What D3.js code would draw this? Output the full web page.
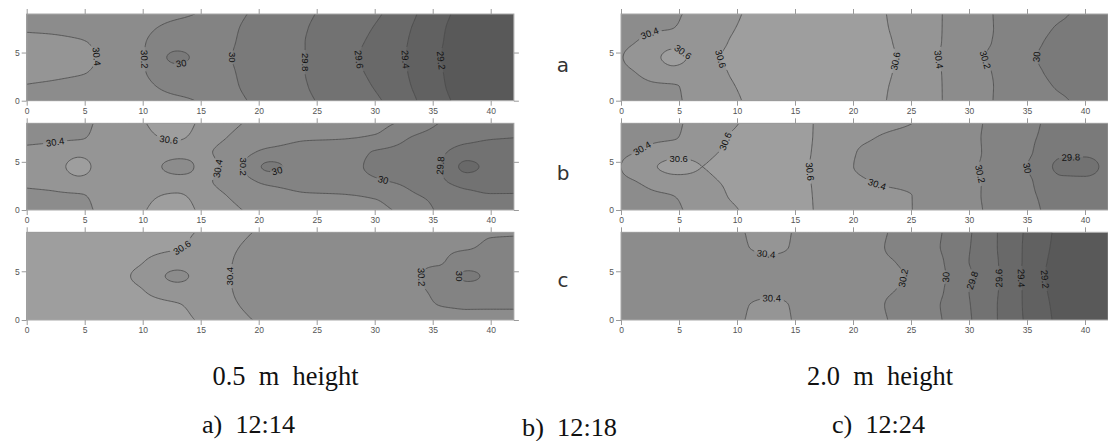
<!DOCTYPE html>
<html><head><meta charset="utf-8">
<script src="https://cdn.jsdelivr.net/npm/d3@7"></script>
<style>body{margin:0;background:#fff}svg{display:block}</style>
</head><body><svg id="chart" width="1108" height="441"></svg>
<script>
// ---------- data ----------
const xNodes = [0, 2, 4.5, 7, 9.5, 13, 15.5, 18, 21, 24, 27, 30, 33, 35.5, 38, 40, 42];
const yNodes = [9, 7.5, 6, 4.5, 3, 1.5, 0];           // grid rows, top to bottom
const levels = [29.2, 29.4, 29.6, 29.8, 30.0, 30.2, 30.4, 30.6];
const xTicks = [0, 5, 10, 15, 20, 25, 30, 35, 40];
const yTicks = [0, 5];
const rowNames = ["a", "b", "c"];
const heightTitles = ["0.5  m  height", "2.0  m  height"];
const timeTitles = ["a)  12:14", "b)  12:18", "c)  12:24"];

// 0.5 m, 12:14
const temp05a = [
 [30.33,30.33,30.31,30.29,30.27,30.23,30.17,30.03,29.95,29.83,29.73,29.63,29.45,29.25,29.15,29.10,29.07],
 [30.38,30.37,30.34,30.30,30.25,30.15,30.12,30.01,29.93,29.81,29.70,29.59,29.41,29.23,29.13,29.09,29.06],
 [30.46,30.45,30.42,30.34,30.24,30.08,30.09,30.00,29.92,29.80,29.68,29.56,29.39,29.22,29.12,29.08,29.05],
 [30.50,30.48,30.45,30.36,30.25,29.96,30.07,29.99,29.91,29.80,29.68,29.53,29.38,29.21,29.11,29.07,29.05],
 [30.46,30.45,30.42,30.34,30.24,30.08,30.09,30.00,29.92,29.80,29.68,29.56,29.39,29.22,29.12,29.08,29.05],
 [30.39,30.37,30.33,30.30,30.25,30.15,30.12,30.01,29.93,29.81,29.70,29.59,29.41,29.23,29.13,29.09,29.06],
 [30.32,30.32,30.30,30.28,30.26,30.23,30.17,30.03,29.95,29.83,29.73,29.63,29.45,29.25,29.15,29.10,29.07]];
// 0.5 m, 12:18
const temp05b = [
 [30.35,30.36,30.37,30.45,30.56,30.70,30.52,30.42,30.33,30.28,30.26,30.25,30.14,30.00,29.90,29.87,29.85],
 [30.37,30.38,30.39,30.46,30.54,30.62,30.48,30.37,30.28,30.22,30.21,30.18,30.00,29.92,29.84,29.81,29.80],
 [30.43,30.45,30.55,30.50,30.52,30.48,30.42,30.30,30.15,30.12,30.08,29.99,29.93,29.84,29.72,29.72,29.72],
 [30.46,30.50,30.66,30.50,30.52,30.34,30.44,30.27,29.96,30.10,30.06,29.97,29.90,29.81,29.55,29.66,29.68],
 [30.43,30.45,30.55,30.50,30.52,30.48,30.42,30.30,30.15,30.12,30.08,30.02,29.96,29.84,29.72,29.72,29.72],
 [30.37,30.38,30.39,30.46,30.54,30.62,30.48,30.37,30.28,30.22,30.21,30.18,30.03,29.95,29.84,29.81,29.81],
 [30.35,30.36,30.37,30.45,30.56,30.70,30.52,30.42,30.33,30.28,30.26,30.25,30.12,29.98,29.88,29.86,29.85]];
// 0.5 m, 12:24
const temp05c = [
 [30.68,30.68,30.68,30.67,30.66,30.63,30.57,30.44,30.37,30.33,30.31,30.29,30.27,30.25,30.23,30.21,30.21],
 [30.68,30.68,30.68,30.67,30.65,30.61,30.53,30.41,30.34,30.30,30.28,30.26,30.24,30.22,30.21,30.18,30.17],
 [30.68,30.68,30.67,30.66,30.62,30.50,30.50,30.39,30.30,30.27,30.25,30.23,30.21,30.21,30.12,30.10,30.10],
 [30.68,30.68,30.67,30.65,30.58,30.36,30.48,30.38,30.29,30.26,30.24,30.22,30.21,30.17,29.96,30.04,30.06],
 [30.68,30.68,30.67,30.66,30.62,30.50,30.50,30.39,30.30,30.27,30.25,30.23,30.21,30.19,30.12,30.10,30.10],
 [30.68,30.68,30.68,30.67,30.65,30.61,30.53,30.41,30.34,30.30,30.28,30.25,30.22,30.20,30.19,30.19,30.19],
 [30.68,30.68,30.68,30.67,30.66,30.63,30.57,30.44,30.37,30.33,30.31,30.29,30.26,30.24,30.22,30.22,30.22]];
// 2.0 m, 12:14
const temp20a = [
 [30.30,30.32,30.38,30.45,30.57,30.66,30.68,30.68,30.65,30.56,30.43,30.30,30.16,30.08,30.02,29.96,29.93],
 [30.32,30.37,30.40,30.47,30.59,30.66,30.68,30.68,30.65,30.57,30.43,30.30,30.16,30.06,29.98,29.95,29.93],
 [30.36,30.43,30.55,30.50,30.61,30.66,30.68,30.68,30.66,30.58,30.43,30.29,30.15,30.03,29.96,29.94,29.93],
 [30.39,30.50,30.64,30.55,30.63,30.66,30.68,30.68,30.66,30.59,30.42,30.27,30.12,30.01,29.95,29.93,29.92],
 [30.36,30.43,30.55,30.50,30.61,30.66,30.68,30.68,30.66,30.58,30.43,30.29,30.15,30.03,29.96,29.94,29.93],
 [30.32,30.37,30.39,30.47,30.59,30.66,30.68,30.68,30.65,30.57,30.43,30.30,30.16,30.06,29.98,29.95,29.93],
 [30.30,30.32,30.38,30.45,30.57,30.66,30.68,30.68,30.65,30.56,30.43,30.30,30.16,30.08,30.02,29.96,29.93]];
// 2.0 m, 12:18
const temp20b = [
 [30.30,30.33,30.37,30.48,30.58,30.66,30.63,30.55,30.47,30.42,30.36,30.25,30.12,30.02,29.96,29.94,29.93],
 [30.33,30.37,30.39,30.50,30.61,30.66,30.63,30.54,30.42,30.37,30.35,30.24,30.12,30.01,29.95,29.93,29.92],
 [30.37,30.42,30.52,30.57,30.62,30.66,30.63,30.52,30.38,30.35,30.30,30.24,30.11,30.00,29.84,29.83,29.86],
 [30.40,30.52,30.66,30.60,30.64,30.67,30.63,30.50,30.37,30.33,30.29,30.23,30.10,29.97,29.76,29.76,29.84],
 [30.37,30.42,30.52,30.57,30.62,30.66,30.63,30.52,30.41,30.36,30.31,30.24,30.11,30.00,29.84,29.83,29.86],
 [30.33,30.37,30.40,30.50,30.61,30.66,30.63,30.54,30.45,30.42,30.35,30.24,30.12,30.01,29.95,29.93,29.92],
 [30.30,30.33,30.37,30.48,30.58,30.66,30.63,30.55,30.47,30.42,30.36,30.25,30.12,30.02,29.96,29.94,29.93]];
// 2.0 m, 12:24
const temp20c = [
 [30.33,30.33,30.34,30.35,30.37,30.46,30.37,30.33,30.27,30.16,30.04,29.82,29.55,29.33,29.15,29.08,29.05],
 [30.33,30.33,30.34,30.35,30.36,30.45,30.36,30.33,30.26,30.15,30.03,29.81,29.55,29.32,29.14,29.08,29.05],
 [30.33,30.33,30.34,30.34,30.34,30.35,30.34,30.32,30.25,30.19,30.06,29.80,29.56,29.31,29.12,29.07,29.04],
 [30.33,30.33,30.33,30.34,30.34,30.34,30.34,30.32,30.26,30.21,30.07,29.83,29.56,29.30,29.10,29.07,29.04],
 [30.33,30.33,30.34,30.34,30.34,30.35,30.34,30.32,30.25,30.19,30.06,29.80,29.56,29.31,29.12,29.07,29.04],
 [30.33,30.33,30.34,30.35,30.36,30.45,30.36,30.33,30.26,30.15,30.03,29.81,29.55,29.32,29.14,29.08,29.05],
 [30.33,30.33,30.34,30.35,30.37,30.46,30.37,30.33,30.27,30.16,30.04,29.82,29.55,29.33,29.15,29.08,29.05]];

// contour labels: [level, approx x, approx y]
const labels05a = [[30.4,6.2,4.6],[30.2,10.2,4.3],[30,13.3,3.9],[30,17.7,4.5],[29.8,24.3,4.0],[29.6,28.7,4.3],[29.4,32.6,4.3],[29.2,35.9,4.2]];
const labels05b = [[30.4,2.5,6.9],[30.6,12.2,7.0],[30.4,15.8,4.4],[30.2,19.1,4.5],[30,21.5,4.2],[30,31.0,3.6],[29.8,35.9,4.6]];
const labels05c = [[30.6,13.5,7.3],[30.4,17.5,4.5],[30.2,33.9,4.4],[30,37.5,4.5]];
const labels20a = [[30.4,2.8,6.6],[30.6,5.2,4.95],[30.6,8.4,4.3],[30.6,23.7,4.1],[30.4,27.6,4.3],[30.2,31.7,4.3],[30,36.0,4.55]];
const labels20b = [[30.4,1.9,6.3],[30.6,4.9,5.0],[30.6,9.1,7.1],[30.6,16.5,4.0],[30.4,22.2,2.85],[30.2,31.5,3.8],[30,34.7,4.3],[29.8,38.8,4.9]];
const labels20c = [[30.4,12.5,6.7],[30.4,13.0,2.3],[30.2,24.0,4.35],[30,28.0,4.4],[29.8,30.6,4.0],[29.6,32.5,4.3],[29.4,34.4,4.3],[29.2,36.6,4.2]];

// ---------- styling / layout ----------
const bandColors = ["#595959","#616161","#696969","#727272","#7a7a7a","#838383","#8c8c8c","#959595","#9e9e9e"];
const colLeft = [26.7, 621];
const rowTop = [14, 123.3, 232.3];
const rowBottom = [100.7, 210, 320];
const pxPerUnit = 11.6;
const XMAX = 42, YMAX = 9;

const panels = [
  {col:0,row:0,grid:temp05a,labels:labels05a},{col:0,row:1,grid:temp05b,labels:labels05b},{col:0,row:2,grid:temp05c,labels:labels05c},
  {col:1,row:0,grid:temp20a,labels:labels20a},{col:1,row:1,grid:temp20b,labels:labels20b},{col:1,row:2,grid:temp20c,labels:labels20c}];

// ---------- interpolation (monotone cubic, rendering only) ----------
function slopes(xs, vs){
  const n=xs.length,h=[],d=[],m=new Array(n);
  for(let i=0;i<n-1;i++){h[i]=xs[i+1]-xs[i];d[i]=(vs[i+1]-vs[i])/h[i];}
  m[0]=d[0];m[n-1]=d[n-2];
  for(let i=1;i<n-1;i++){
    if(d[i-1]*d[i]<=0) m[i]=0;
    else{const w1=2*h[i]+h[i-1],w2=h[i]+2*h[i-1];m[i]=(w1+w2)/(w1/d[i-1]+w2/d[i]);}
  }
  if(d[0]*m[1]<0||Math.abs(m[0])>3*Math.abs(d[0])) m[0]=0;
  return m;
}
function hermite(xs, vs, m, x){
  const n=xs.length;
  let i=d3.bisectRight(xs,x)-1; i=Math.max(0,Math.min(n-2,i));
  const h=xs[i+1]-xs[i],t=(x-xs[i])/h,t2=t*t,t3=t2*t;
  return (2*t3-3*t2+1)*vs[i]+(t3-2*t2+t)*h*m[i]+(-2*t3+3*t2)*vs[i+1]+(t3-t2)*h*m[i+1];
}
const yAsc = yNodes.slice().reverse();
function prep(grid){
  const rows = grid.slice().reverse();
  return rows.map(r=>({v:r,m:slopes(xNodes,r)}));
}
function evalAt(prepRows, x, y){
  const col = prepRows.map(r=>hermite(xNodes,r.v,r.m,x));
  return hermite(yAsc,col,slopes(yAsc,col),y);
}
const NX=337, NY=73, DX=XMAX/(NX-1), DY=YMAX/(NY-1);
function sample(prepRows){
  const fine = prepRows.map(r=>d3.range(NX).map(i=>hermite(xNodes,r.v,r.m,i*DX)));
  const vals=new Float64Array(NX*NY);
  for(let i=0;i<NX;i++){
    const col=fine.map(r=>r[i]); const m=slopes(yAsc,col);
    for(let j=0;j<NY;j++){ vals[j*NX+i]=hermite(yAsc,col,m,YMAX-j*DY); }
  }
  return vals;
}

// ---------- draw ----------
const svg=d3.select("#chart");
const defs=svg.append("defs");
const contourGen=d3.contours().size([NX,NY]).thresholds(levels);

panels.forEach((p,k)=>{
  const x0=colLeft[p.col], top=rowTop[p.row], bottom=rowBottom[p.row];
  const x=d3.scaleLinear().domain([0,XMAX]).range([x0,x0+XMAX*pxPerUnit]);
  const y=d3.scaleLinear().domain([0,YMAX]).range([bottom,top]);
  const kx=pxPerUnit, ky=(bottom-top)/YMAX;
  const pr=prep(p.grid);
  const vals=sample(pr);
  const contours=contourGen(vals);
  const proj=d3.geoTransform({point:function(cx,cy){ this.stream.point(x((cx-0.5)*DX), y(YMAX-(cy-0.5)*DY)); }});
  const path=d3.geoPath(proj);

  defs.append("clipPath").attr("id","clip"+k).append("rect")
    .attr("x",x(0)).attr("y",top).attr("width",x(XMAX)-x(0)).attr("height",bottom-top);

  const g=svg.append("g");
  const fills=g.append("g").attr("clip-path","url(#clip"+k+")");
  fills.append("rect").attr("x",x(0)).attr("y",top).attr("width",x(XMAX)-x(0)).attr("height",bottom-top).attr("fill",bandColors[0]);
  fills.selectAll("path.band").data(contours).join("path").attr("class","band")
    .attr("d",path).attr("fill",(d,i)=>bandColors[i+1]).attr("stroke","none");

  // labels: snap to contour, orient along it
  const labs=p.labels.map(([lv,lx,ly])=>{
    let px_=lx,py_=ly;
    const r2=(ky*ky)/(kx*kx);
    for(let it=0;it<8;it++){
      const v=evalAt(pr,px_,py_)-lv, e=0.02;
      const gx=(evalAt(pr,px_+e,py_)-evalAt(pr,px_-e,py_))/(2*e);
      const gy=(evalAt(pr,px_,py_+e)-evalAt(pr,px_,py_-e))/(2*e);
      const den=gx*gx+gy*gy*r2; if(den<1e-10)break;
      let sx=-v*gx/den, sy=-v*gy*r2/den;
      const len=Math.hypot(sx,sy); if(len>0.6){sx*=0.6/len;sy*=0.6/len;}
      px_+=sx;py_+=sy;
    }
    const e=0.02;
    const gx=(evalAt(pr,px_+e,py_)-evalAt(pr,px_-e,py_))/(2*e);
    const gy=(evalAt(pr,px_,py_+e)-evalAt(pr,px_,py_-e))/(2*e);
    const sgx=gx/kx, sgy=-gy/ky;
    let ang=Math.atan2(sgx,-sgy)*180/Math.PI;
    if(ang>90)ang-=180; if(ang<=-90)ang+=180;
    const txt=d3.format("~g")(lv);
    return {txt,cx:x(px_),cy:y(py_),ang};
  });

  const mask=defs.append("mask").attr("id","mask"+k).attr("maskUnits","userSpaceOnUse")
    .attr("x",0).attr("y",0).attr("width",1108).attr("height",441);
  mask.append("rect").attr("x",0).attr("y",0).attr("width",1108).attr("height",441).attr("fill","#fff");
  labs.forEach(l=>{
    const w=l.txt.length*5.3+3;
    mask.append("rect").attr("x",-w/2).attr("y",-4.5).attr("width",w).attr("height",9).attr("fill","#000")
      .attr("transform",`translate(${l.cx},${l.cy}) rotate(${l.ang})`);
  });

  fills.append("g").attr("mask","url(#mask"+k+")").selectAll("path.line").data(contours).join("path").attr("class","line")
    .attr("d",path).attr("fill","none").attr("stroke","#4a4a4a").attr("stroke-width",0.8);

  g.append("g").selectAll("text").data(labs).join("text")
    .attr("transform",l=>`translate(${l.cx},${l.cy}) rotate(${l.ang})`)
    .attr("text-anchor","middle").attr("dy","0.35em")
    .attr("font-family","Liberation Sans, Arial, sans-serif").attr("font-size",9.5).attr("fill","#111")
    .text(l=>l.txt);

  // frame
  g.append("rect").attr("x",x(0)).attr("y",top).attr("width",x(XMAX)-x(0)).attr("height",bottom-top)
    .attr("fill","none").attr("stroke","#a8a8a8").attr("stroke-width",1);

  // axes
  const styleAxis=sel=>{ sel.select(".domain").remove(); sel.selectAll("line").attr("stroke","#9a9a9a");
    sel.selectAll("text").attr("font-family","Liberation Sans, Arial, sans-serif").attr("font-size",8.5).attr("fill","#555"); };
  svg.append("g").attr("transform",`translate(0,${bottom})`).call(d3.axisBottom(x).tickValues(xTicks).tickSize(5).tickPadding(2)).call(styleAxis);
  svg.append("g").attr("transform",`translate(0,${top})`).call(d3.axisTop(x).tickValues(xTicks).tickSize(5).tickFormat("")).call(styleAxis);
  svg.append("g").attr("transform",`translate(${x(0)},0)`).call(d3.axisLeft(y).tickValues(yTicks).tickSize(5).tickPadding(2)).call(styleAxis);
  svg.append("g").attr("transform",`translate(${x(XMAX)},0)`).call(d3.axisRight(y).tickValues(yTicks).tickSize(5).tickFormat("")).call(styleAxis);
});

// row letters
const letterY=[72,180,287];
svg.append("g").selectAll("text").data(rowNames).join("text")
  .attr("x",563).attr("y",(d,i)=>letterY[i]).attr("text-anchor","middle")
  .attr("font-family","DejaVu Sans, sans-serif").attr("font-size",20).attr("fill","#333").text(d=>d);

// captions
const capSpec=[{t:heightTitles[0],x:212.5,y:385,w:146,s:27.5},{t:heightTitles[1],x:807,y:385,w:146,s:27.5},
  {t:timeTitles[0],x:202,y:433,w:93,s:25.5},{t:timeTitles[1],x:522,y:435.5,w:95,s:25.5},{t:timeTitles[2],x:832,y:433,w:93,s:25.5}];
svg.append("g").selectAll("text").data(capSpec).join("text")
  .attr("x",d=>d.x).attr("y",d=>d.y).attr("textLength",d=>d.w).attr("lengthAdjust","spacingAndGlyphs")
  .style("white-space","pre").attr("font-family","'Liberation Serif', 'Times New Roman', serif").attr("font-size",d=>d.s).attr("fill","#111")
  .text(d=>d.t);
</script>
</body></html>
